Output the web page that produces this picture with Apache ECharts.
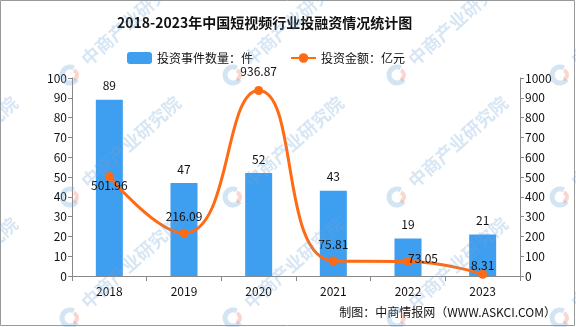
<!DOCTYPE html>
<html><head><meta charset="utf-8">
<script src="https://cdn.jsdelivr.net/npm/echarts@6/dist/echarts.min.js"></script>
<style>html,body{margin:0;padding:0;background:#fff}#c{width:576px;height:327px}</style>
</head><body><div id="c"></div>
<script>
const categories = ['2018','2019','2020','2021','2022','2023'];
const eventCounts = [89, 47, 52, 43, 19, 21];
const amounts = [501.96, 216.09, 936.87, 75.81, 73.05, 8.31];
const leftTicks = {min:0, max:100, interval:10};
const rightTicks = {min:0, max:1000, interval:100};

const FONT = '"Noto Sans CJK SC", sans-serif';
const lineLabelOffsets = [[0,25],[0,0],[0,-3],[0,0],[15,13],[0,8]];

// watermark decoration
const wm = [];
const wmXs = [-93, 70, 233, 397, 560], wmYs = [75, 197, 318];
wmYs.forEach(y => wmXs.forEach(x => {
  wm.push({type:'arc', z:100, silent:true, shape:{cx:x, cy:y, r:8, startAngle:0.6, endAngle:5.2},
    style:{stroke:'rgba(110,165,215,0.3)', lineWidth:5, fill:'none'}});
  wm.push({type:'arc', z:100, silent:true, shape:{cx:x+2, cy:y, r:5, startAngle:-1.2, endAngle:1.2},
    style:{stroke:'rgba(240,120,90,0.3)', lineWidth:4, fill:'none'}});
  wm.push({type:'text', z:100, silent:true, x:x+14, y:y-13, rotation:0.73,
    style:{text:'中商产业研究院', fill:'rgba(110,165,215,0.28)', font:'bold 18px '+FONT, verticalAlign:'middle'}});
}));

const chart = echarts.init(document.getElementById('c'));
chart.setOption({
  animation:false,
  textStyle:{fontFamily:FONT},
  title:{text:'2018-2023年中国短视频行业投融资情况统计图', left:112, top:11,
    textStyle:{fontSize:14, fontWeight:'bold', color:'#111', fontFamily:FONT}},
  legend:{left:122, top:47, itemGap:37, itemWidth:25, itemHeight:12,
    textStyle:{fontSize:12, color:'#111', fontFamily:FONT},
    data:[{name:'投资事件数量：件'},{name:'投资金额：亿元'}]},
  grid:{left:72, right:56, top:78, bottom:51},
  xAxis:{type:'category', data:categories,
    axisLine:{lineStyle:{color:'#888'}},
    axisTick:{show:true, length:5, lineStyle:{color:'#888'}},
    axisLabel:{color:'#111', fontSize:12, margin:9, fontFamily:FONT}},
  yAxis:[
    {type:'value', min:leftTicks.min, max:leftTicks.max, interval:leftTicks.interval,
      axisLine:{show:true, lineStyle:{color:'#888'}}, axisTick:{show:true, length:4, lineStyle:{color:'#888'}},
      splitLine:{show:false}, axisLabel:{color:'#111', fontSize:12, margin:5, fontFamily:FONT}},
    {type:'value', min:rightTicks.min, max:rightTicks.max, interval:rightTicks.interval,
      axisLine:{show:true, lineStyle:{color:'#888'}}, axisTick:{show:true, length:4, lineStyle:{color:'#888'}},
      splitLine:{show:false}, axisLabel:{color:'#111', fontSize:12, margin:5, fontFamily:FONT,
        formatter:v=>String(v)}}
  ],
  series:[
    {name:'投资事件数量：件', type:'bar', data:eventCounts, barWidth:27,
      itemStyle:{color:'#3E9EF0'},
      label:{show:true, position:'top', distance:8, color:'#111', fontSize:12, fontFamily:FONT}},
    {name:'投资金额：亿元', type:'line', yAxisIndex:1, smooth:0.5,
      data:amounts.map((v,i)=>({value:v, label:{offset:lineLabelOffsets[i]}})),
      symbol:'circle', symbolSize:9,
      lineStyle:{color:'#FF6A13', width:3}, itemStyle:{color:'#FF6A13'},
      label:{show:true, position:'top', distance:6, color:'#111', fontSize:12, fontFamily:FONT}}
  ],
  graphic:[
    {type:'rect', shape:{x:0.5, y:0.5, width:574, height:325}, style:{fill:'none', stroke:'#999', lineWidth:1}, silent:true},
    {type:'text', right:20, top:306, style:{text:'制图：中商情报网（WWW.ASKCI.COM）', fill:'#111', font:'12px '+FONT}}
  ].concat(wm)
});
</script></body></html>
